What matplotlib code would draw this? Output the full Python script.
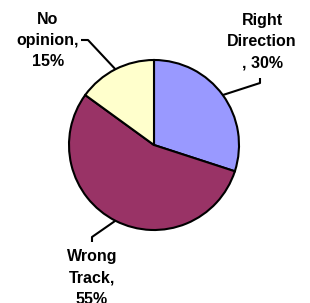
import numpy as np
import matplotlib.pyplot as plt

labels = ['Right\nDirection\n, 30%', 'Wrong\nTrack,\n55%', 'No\nopinion,\n15%']
values = [30, 55, 15]
colors = ['#9999FF', '#993366', '#FFFFCC']

W, H = 310, 303
fig = plt.figure(figsize=(W / 100, H / 100), dpi=100)
ax = fig.add_axes([0, 0, 1, 1])
ax.axis('off')

cx, cy, r = 154, H - 145, 85
wedges, _ = ax.pie(values, colors=colors, startangle=90, counterclock=False,
                   center=(cx, cy), radius=r,
                   wedgeprops={'edgecolor': 'black', 'linewidth': 1.5})
ax.set_xlim(0, W)
ax.set_ylim(0, H)
ax.set_aspect('equal')

# label placement (pixel coords, y down): elbow, end, text center
layout = [
    ((260, 83), (260, 78), (262, 42)),
    ((92, 237), (92, 242), (92, 278)),
    ((88, 40), (81, 40), (48, 41)),
]

for w, lab, (elbow, end, txt) in zip(wedges, labels, layout):
    mid = np.radians((w.theta1 + w.theta2) / 2)
    x0, y0 = cx + r * np.cos(mid), cy + r * np.sin(mid)
    ax.plot([x0, elbow[0], end[0]], [y0, H - elbow[1], H - end[1]],
            color='black', lw=1.5, solid_capstyle='butt')
    ax.text(txt[0], H - txt[1], lab, ha='center', va='center',
            multialignment='center', fontsize=11.5, fontweight='bold',
            family='Liberation Sans', linespacing=1.5)

fig.savefig('out.png', dpi=100)
